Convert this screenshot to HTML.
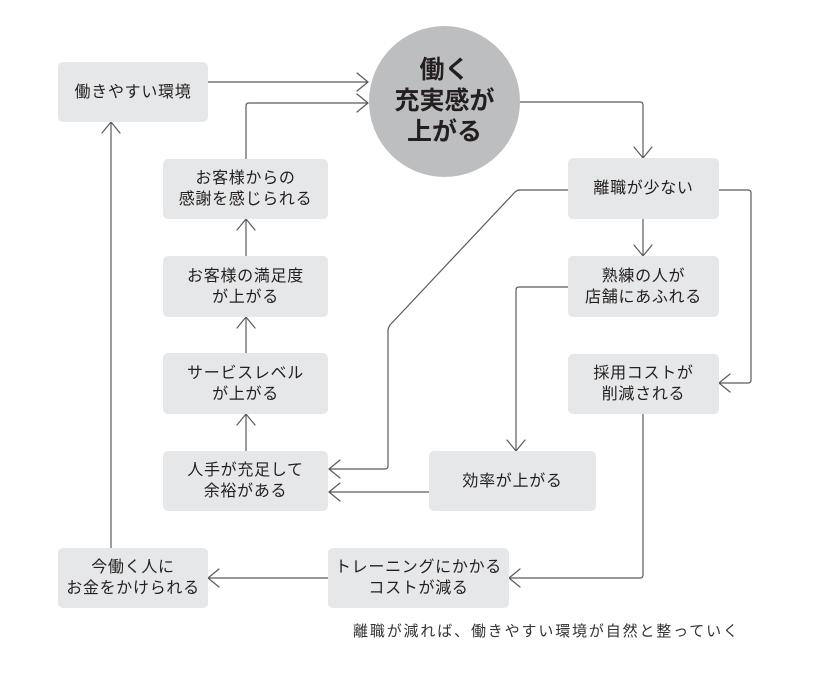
<!DOCTYPE html>
<html><head><meta charset="utf-8">
<style>
html,body{margin:0;padding:0;background:#fff;}
#c{position:relative;width:827px;height:678px;overflow:hidden;background:#fff;
font-family:"Liberation Sans","Noto Sans CJK JP",sans-serif;color:#231f20;}
.b{position:absolute;background:#e6e7e8;border-radius:5px;display:flex;align-items:center;justify-content:center;text-align:center;font-size:16px;line-height:21px;letter-spacing:0.7px;}
svg{position:absolute;left:0;top:0;}
.circ{position:absolute;left:369px;top:26px;width:151px;height:151px;border-radius:50%;background:#bdbec0;display:flex;align-items:center;justify-content:center;text-align:center;font-weight:bold;font-size:25px;line-height:31px;color:#231f20;}
.cap{position:absolute;left:353px;top:622px;font-size:15px;letter-spacing:1.85px;color:#333;white-space:nowrap;line-height:20px;}
</style></head><body>
<div id="c">
<svg width="827" height="678" viewBox="0 0 827 678">
<g fill="none" stroke="#5a5a5a" stroke-width="1.2" stroke-linejoin="round" stroke-linecap="round">
<path d="M208 82 H368"/><polyline points="357,73 368,82 357,91"/>
<path d="M246 159 V106 Q246 103 249 103 H368"/><polyline points="357,94 368,103 357,112"/>
<path d="M520 102 H640 Q643 102 643 105 V158"/><polyline points="634,147 643,158 652,147"/>
<path d="M719 190 H748 Q751 190 751 193 V380 Q751 383 748 383 H719"/><polyline points="730,374 719,383 730,392"/>
<path d="M568 190 H520 Q517 190 515 192 L390 325 Q388 328 388 331 V466 Q388 469 385 469 H329"/><polyline points="340,460 329,469 340,478"/>
<path d="M643 219 V256"/><polyline points="634,245 643,256 652,245"/>
<path d="M568 287 H519 Q516 287 516 290 V451"/><polyline points="507,440 516,451 525,440"/>
<path d="M643 414 V575 Q643 578 640 578 H509"/><polyline points="520,569 509,578 520,587"/>
<path d="M429 492 H329"/><polyline points="340,483 329,492 340,501"/>
<path d="M328 578 H208"/><polyline points="219,569 208,578 219,587"/>
<path d="M111 548 V122"/><polyline points="102,133 111,122 120,133"/>
<path d="M246 451 V414"/><polyline points="237,425 246,414 255,425"/>
<path d="M246 353 V317"/><polyline points="237,328 246,317 255,328"/>
<path d="M246 256 V219"/><polyline points="237,230 246,219 255,230"/>
</g>
</svg>

<div class="circ">働く<br>充実感が<br>上がる</div>

<div class="b" style="left:58px;top:62px;width:150px;height:60px;">働きやすい環境</div>
<div class="b" style="left:163px;top:159px;width:165px;height:60px;">お客様からの<br>感謝を感じられる</div>
<div class="b" style="left:163px;top:256px;width:165px;height:61px;">お客様の満足度<br>が上がる</div>
<div class="b" style="left:163px;top:353px;width:165px;height:61px;">サービスレベル<br>が上がる</div>
<div class="b" style="left:163px;top:451px;width:165px;height:60px;">人手が充足して<br>余裕がある</div>
<div class="b" style="left:58px;top:548px;width:150px;height:60px;">今働く人に<br>お金をかけられる</div>

<div class="b" style="left:568px;top:158px;width:151px;height:61px;">離職が少ない</div>
<div class="b" style="left:568px;top:256px;width:151px;height:61px;">熟練の人が<br>店舗にあふれる</div>
<div class="b" style="left:568px;top:354px;width:151px;height:60px;">採用コストが<br>削減される</div>
<div class="b" style="left:429px;top:451px;width:167px;height:60px;">効率が上がる</div>
<div class="b" style="left:328px;top:548px;width:181px;height:60px;">トレーニングにかかる<br>コストが減る</div>

<div class="cap">離職が減れば、働きやすい環境が自然と整っていく</div>
</div>
</body></html>
